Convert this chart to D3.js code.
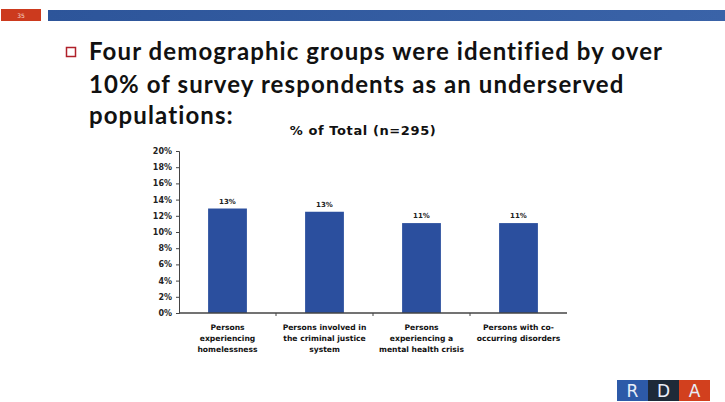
<!DOCTYPE html>
<html><head><meta charset="utf-8">
<script src="https://cdn.jsdelivr.net/npm/d3@7"></script>
<style>body{margin:0;background:#fff}svg{display:block}</style>
</head><body>
<script>
const categories = [
  ["Persons", "experiencing", "homelessness"],
  ["Persons involved in", "the criminal justice", "system"],
  ["Persons", "experiencing a", "mental health crisis"],
  ["Persons with co-", "occurring disorders"]
];
const values = [12.9, 12.5, 11.1, 11.1];
const valueLabels = ["13%", "13%", "11%", "11%"];
const yTicks = [0, 2, 4, 6, 8, 10, 12, 14, 16, 18, 20];
const chartTitle = "% of Total (n=295)";
const bulletLines = [
  "Four demographic groups were identified by over",
  "10% of survey respondents as an underserved",
  "populations:"
];

const W = 725, H = 402;
const svg = d3.select("body").append("svg").attr("width", W).attr("height", H);

// header
const grad = svg.append("defs").append("linearGradient").attr("id","hg");
grad.append("stop").attr("offset","0%").attr("stop-color","#2d559a");
grad.append("stop").attr("offset","100%").attr("stop-color","#3a63a8");
svg.append("rect").attr("x",48).attr("y",10).attr("width",W-48).attr("height",11).attr("fill","url(#hg)");
svg.append("rect").attr("x",1).attr("y",9).attr("width",40).attr("height",12).attr("fill","#cc3a1e");
svg.append("text").attr("x",21).attr("y",18).attr("text-anchor","middle")
  .attr("font-family","DejaVu Sans").attr("font-size",6).attr("fill","#f5d7c8").text("35");

// bullet
svg.append("rect").attr("x",66.5).attr("y",47.5).attr("width",9).attr("height",9)
  .attr("fill","none").attr("stroke","#b0202a").attr("stroke-width",1.5);
const body = svg.append("g").attr("font-family","Lato, 'Open Sans', sans-serif")
  .attr("font-weight",700).attr("font-size",24).attr("letter-spacing",1.1).attr("fill","#111");
const lineY = [60, 93, 124];
bulletLines.forEach((t,i)=>{
  body.append("text").attr("x",89).attr("y",lineY[i]).text(t);
});

// chart
const x0 = 179, x1 = 567, yTop = 151, yBot = 313;
const x = d3.scaleBand().domain(d3.range(categories.length)).range([x0,x1])
  .paddingInner(0.6).paddingOuter(0.3);
const y = d3.scaleLinear().domain([0,20]).range([yBot,yTop]);

svg.append("text").attr("x",363).attr("y",135).attr("text-anchor","middle")
  .attr("font-family","DejaVu Sans").attr("font-weight",700).attr("font-size",13)
  .attr("letter-spacing",0.6).attr("fill","#111").text(chartTitle);

svg.append("g").selectAll("rect").data(values).join("rect")
  .attr("x",(d,i)=>x(i)).attr("width",x.bandwidth())
  .attr("y",d=>y(d)).attr("height",d=>y(0)-y(d))
  .attr("fill","#2b4f9e");

svg.append("g").selectAll("text").data(values).join("text")
  .attr("x",(d,i)=>x(i)+x.bandwidth()/2).attr("y",d=>y(d)-5)
  .attr("text-anchor","middle").attr("font-family","DejaVu Sans").attr("font-weight",700)
  .attr("font-size",7).attr("fill","#222").text((d,i)=>valueLabels[i]);

const yAxis = svg.append("g").attr("transform",`translate(${x0},0)`)
  .call(d3.axisLeft(y).tickValues(yTicks).tickFormat(d=>d+"%").tickSize(3).tickPadding(4));
yAxis.selectAll("text").attr("font-family","DejaVu Sans").attr("font-weight",700)
  .attr("font-size",8).attr("fill","#222");
yAxis.selectAll("line,path").attr("stroke","#444");

const xAxis = svg.append("g").attr("transform",`translate(0,${yBot})`);
xAxis.append("line").attr("x1",x0).attr("x2",x1).attr("stroke","#444").attr("stroke-width",1.5);
xAxis.selectAll(".tk").data(d3.range(1,categories.length)).join("line")
  .attr("x1",i=>x(i)-x.step()*x.paddingInner()/2).attr("x2",i=>x(i)-x.step()*x.paddingInner()/2)
  .attr("y1",0).attr("y2",3).attr("stroke","#444");

const labels = svg.append("g").attr("font-family","DejaVu Sans").attr("font-weight",700)
  .attr("font-size",7.6).attr("fill","#111").attr("text-anchor","middle");
categories.forEach((lines,i)=>{
  lines.forEach((t,j)=>{
    labels.append("text").attr("x",x(i)+x.bandwidth()/2).attr("y",330+j*11).text(t);
  });
});

// logo
const logo = [["R","#2d5aa8"],["D","#1e2a38"],["A","#d2401e"]];
logo.forEach((l,i)=>{
  svg.append("rect").attr("x",617+i*31).attr("y",380).attr("width",31).attr("height",21).attr("fill",l[1]);
  svg.append("text").attr("x",617+i*31+15.5).attr("y",397).attr("text-anchor","middle")
    .attr("font-family","DejaVu Sans").attr("font-size",17).attr("fill","#e8eef8").text(l[0]);
});
</script>
</body></html>
